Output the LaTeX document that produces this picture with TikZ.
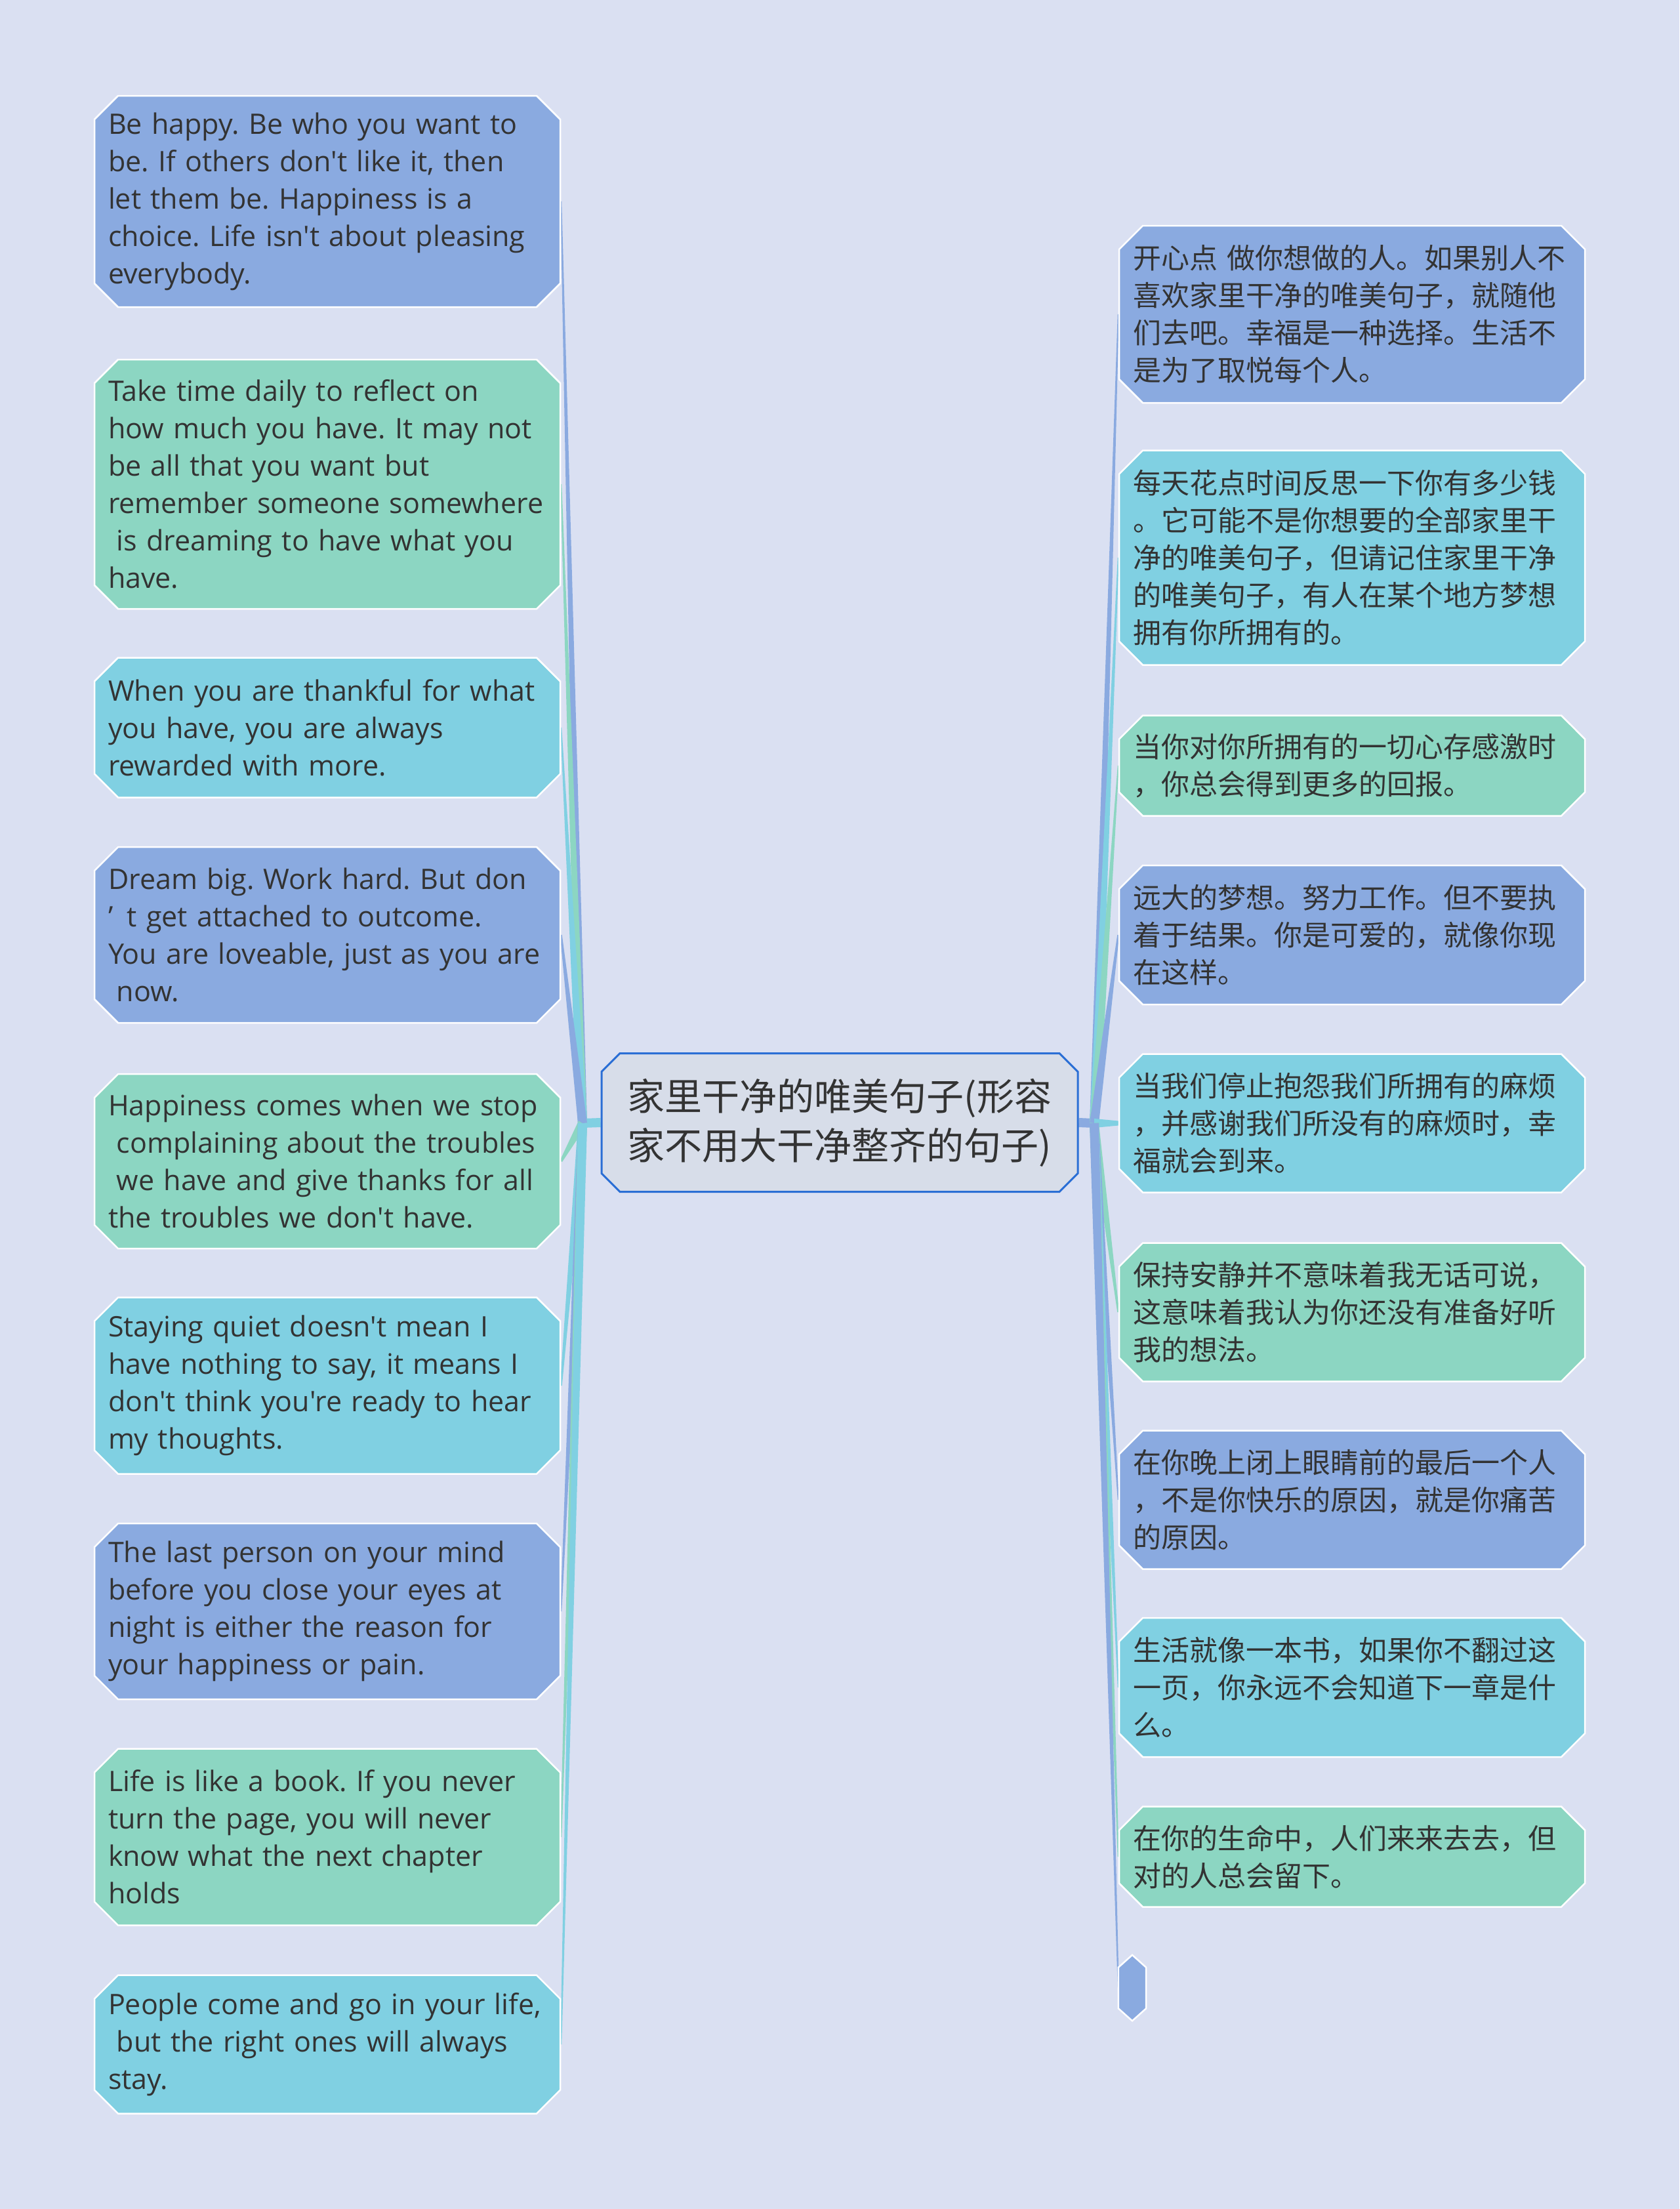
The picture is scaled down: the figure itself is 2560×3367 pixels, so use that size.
\documentclass[tikz,border=0pt]{standalone}
\usepackage{fontspec}
\setmainfont{Open Sans}[Ligatures=TeXOff]
\newfontfamily\cjk{Noto Sans CJK SC}
\usetikzlibrary{shapes.misc,calc}
\frenchspacing
\hyphenpenalty=10000
\exhyphenpenalty=10000

\definecolor{pagebg}{HTML}{DAE0F2}
\definecolor{boxblue}{HTML}{8AAAE0}
\definecolor{boxgreen}{HTML}{8CD6C2}
\definecolor{boxcyan}{HTML}{80D0E2}
\definecolor{rootfill}{HTML}{D7DDE9}
\definecolor{rootline}{HTML}{2B6FD5}
\definecolor{ink}{HTML}{333333}

\pgfdeclarelayer{page}
\pgfdeclarelayer{links}
\pgfsetlayers{page,links,main}

% tapered branch: colour, hub, leaf, half width at the leaf
\newcommand\branch[4]{%
  \fill[#1] ($(#2)!7pt!90:(#3)$) -- ($(#2)!7pt!-90:(#3)$)
    -- ($(#3)!#4!90:(#2)$) -- ($(#3)!#4!-90:(#2)$) -- cycle;}

\begin{document}
\begin{tikzpicture}[x=1pt, y=-1pt,
    leaf/.style = {chamfered rectangle, chamfered rectangle xsep=18pt,
      chamfered rectangle ysep=18pt, draw=white, line width=2.5pt,
      text=ink, text width=668pt, align=left, inner xsep=3pt, inner ysep=0pt,
      minimum width=710pt},
    en/.style = {leaf, font=\fontsize{43}{57}\selectfont},
    zh/.style = {leaf, font=\cjk\fontsize{43}{57}\selectfont},
    root/.style = {chamfered rectangle, chamfered rectangle xsep=14pt,
      chamfered rectangle ysep=14pt, draw=rootline, line width=3pt,
      fill=rootfill, text=ink, align=left, minimum width=726pt,
      minimum height=211pt, font=\cjk\fontsize{57}{75}\selectfont}]
  \begin{pgfonlayer}{page}
    \fill[pagebg] (0,0) rectangle (2560,3367);
  \end{pgfonlayer}
  \useasboundingbox (0,0) rectangle (2560,3367);

  \node[root] (topic) at (1280,1711) {家里干净的唯美句子(形容\\家不用大干净整齐的句子)};
  \coordinate (lhub) at (888,1712);
  \coordinate (rhub) at (1668,1712);

  % left side
  \node[en, fill=boxblue, minimum height=322pt] (l1) at (499,307)
    {Be happy. Be who you want to\\be. If others don't like it, then\\let them be. Happiness is a\\choice. Life isn't about pleasing\\everybody.};
  \node[en, fill=boxgreen, minimum height=380pt] (l2) at (499,738)
    {Take time daily to reflect on\\how much you have. It may not\\be all that you want but\\remember someone somewhere\\\hspace*{.3em}is dreaming to have what you\\have.};
  \node[en, fill=boxcyan, minimum height=213pt] (l3) at (499,1109)
    {When you are thankful for what\\you have, you are always\\rewarded with more.};
  \node[en, fill=boxblue, minimum height=268pt] (l4) at (499,1425)
    {Dream big. Work hard. But don\\’\hspace*{.5em}t get attached to outcome.\\You are loveable, just as you are\\\hspace*{.3em}now.};
  \node[en, fill=boxgreen, minimum height=266pt] (l5) at (499,1770)
    {Happiness comes when we stop\\\hspace*{.3em}complaining about the troubles\\\hspace*{.3em}we have and give thanks for all\\the troubles we don't have.};
  \node[en, fill=boxcyan, minimum height=269pt] (l6) at (499,2112)
    {Staying quiet doesn't mean I\\have nothing to say, it means I\\don't think you're ready to hear\\my thoughts.};
  \node[en, fill=boxblue, minimum height=268pt] (l7) at (499,2456)
    {The last person on your mind\\before you close your eyes at\\night is either the reason for\\your happiness or pain.};
  \node[en, fill=boxgreen, minimum height=269pt] (l8) at (499,2800)
    {Life is like a book. If you never\\turn the page, you will never\\know what the next chapter\\holds};
  \node[en, fill=boxcyan, minimum height=211pt] (l9) at (499,3116)
    {People come and go in your life,\\\hspace*{.3em}but the right ones will always\\stay.};

  % right side
  \node[zh, fill=boxblue, minimum height=270pt] (r1) at (2061,479)
    {开心点 做你想做的人。如果别人不\\喜欢家里干净的唯美句子，就随他\\们去吧。幸福是一种选择。生活不\\是为了取悦每个人。};
  \node[zh, fill=boxcyan, minimum height=327pt] (r2) at (2061,850)
    {每天花点时间反思一下你有多少钱\\。它可能不是你想要的全部家里干\\净的唯美句子，但请记住家里干净\\的唯美句子，有人在某个地方梦想\\拥有你所拥有的。};
  \node[zh, fill=boxgreen, minimum height=153pt] (r3) at (2061,1167)
    {当你对你所拥有的一切心存感激时\\，你总会得到更多的回报。};
  \node[zh, fill=boxblue, minimum height=212pt] (r4) at (2061,1425)
    {远大的梦想。努力工作。但不要执\\着于结果。你是可爱的，就像你现\\在这样。};
  \node[zh, fill=boxcyan, minimum height=211pt] (r5) at (2061,1712)
    {当我们停止抱怨我们所拥有的麻烦\\，并感谢我们所没有的麻烦时，幸\\福就会到来。};
  \node[zh, fill=boxgreen, minimum height=211pt] (r6) at (2061,2000)
    {保持安静并不意味着我无话可说，\\这意味着我认为你还没有准备好听\\我的想法。};
  \node[zh, fill=boxblue, minimum height=211pt] (r7) at (2061,2286)
    {在你晚上闭上眼睛前的最后一个人\\，不是你快乐的原因，就是你痛苦\\的原因。};
  \node[zh, fill=boxcyan, minimum height=212pt] (r8) at (2061,2572)
    {生活就像一本书，如果你不翻过这\\一页，你永远不会知道下一章是什\\么。};
  \node[zh, fill=boxgreen, minimum height=153pt] (r9) at (2061,2830)
    {在你的生命中，人们来来去去，但\\对的人总会留下。};
  \node[inner sep=0pt, minimum width=42pt, minimum height=62pt] (r10) at (1726,3030) {};
  \filldraw[fill=boxblue, draw=white, line width=2.5pt] (r10.north west)
    -- ([yshift=19pt]r10.north) -- (r10.north east) -- (r10.south east)
    -- ([yshift=-19pt]r10.south) -- (r10.south west) -- cycle;

  \begin{pgfonlayer}{links}
    \draw[boxcyan, line width=14pt] (topic.west) -- (lhub);
    \draw[boxblue, line width=14pt] (topic.east) -- (rhub);
    \branch{boxblue}{lhub}{l1.east}{1pt}
    \branch{boxgreen}{lhub}{l2.east}{1pt}
    \branch{boxcyan}{lhub}{l3.east}{1pt}
    \branch{boxblue}{lhub}{l4.east}{1.5pt}
    \branch{boxgreen}{lhub}{l5.east}{2pt}
    \branch{boxcyan}{lhub}{l6.east}{1.5pt}
    \branch{boxblue}{lhub}{l7.east}{1pt}
    \branch{boxgreen}{lhub}{l8.east}{1pt}
    \branch{boxcyan}{lhub}{l9.east}{1pt}
    \branch{boxblue}{rhub}{r1.west}{1pt}
    \branch{boxcyan}{rhub}{r2.west}{1pt}
    \branch{boxgreen}{rhub}{r3.west}{1pt}
    \branch{boxblue}{rhub}{r4.west}{1.5pt}
    \branch{boxcyan}{rhub}{r5.west}{3.5pt}
    \branch{boxgreen}{rhub}{r6.west}{1.5pt}
    \branch{boxblue}{rhub}{r7.west}{1pt}
    \branch{boxcyan}{rhub}{r8.west}{1pt}
    \branch{boxgreen}{rhub}{r9.west}{1pt}
    \branch{boxblue}{rhub}{r10.west}{1pt}
  \end{pgfonlayer}
\end{tikzpicture}
\end{document}
